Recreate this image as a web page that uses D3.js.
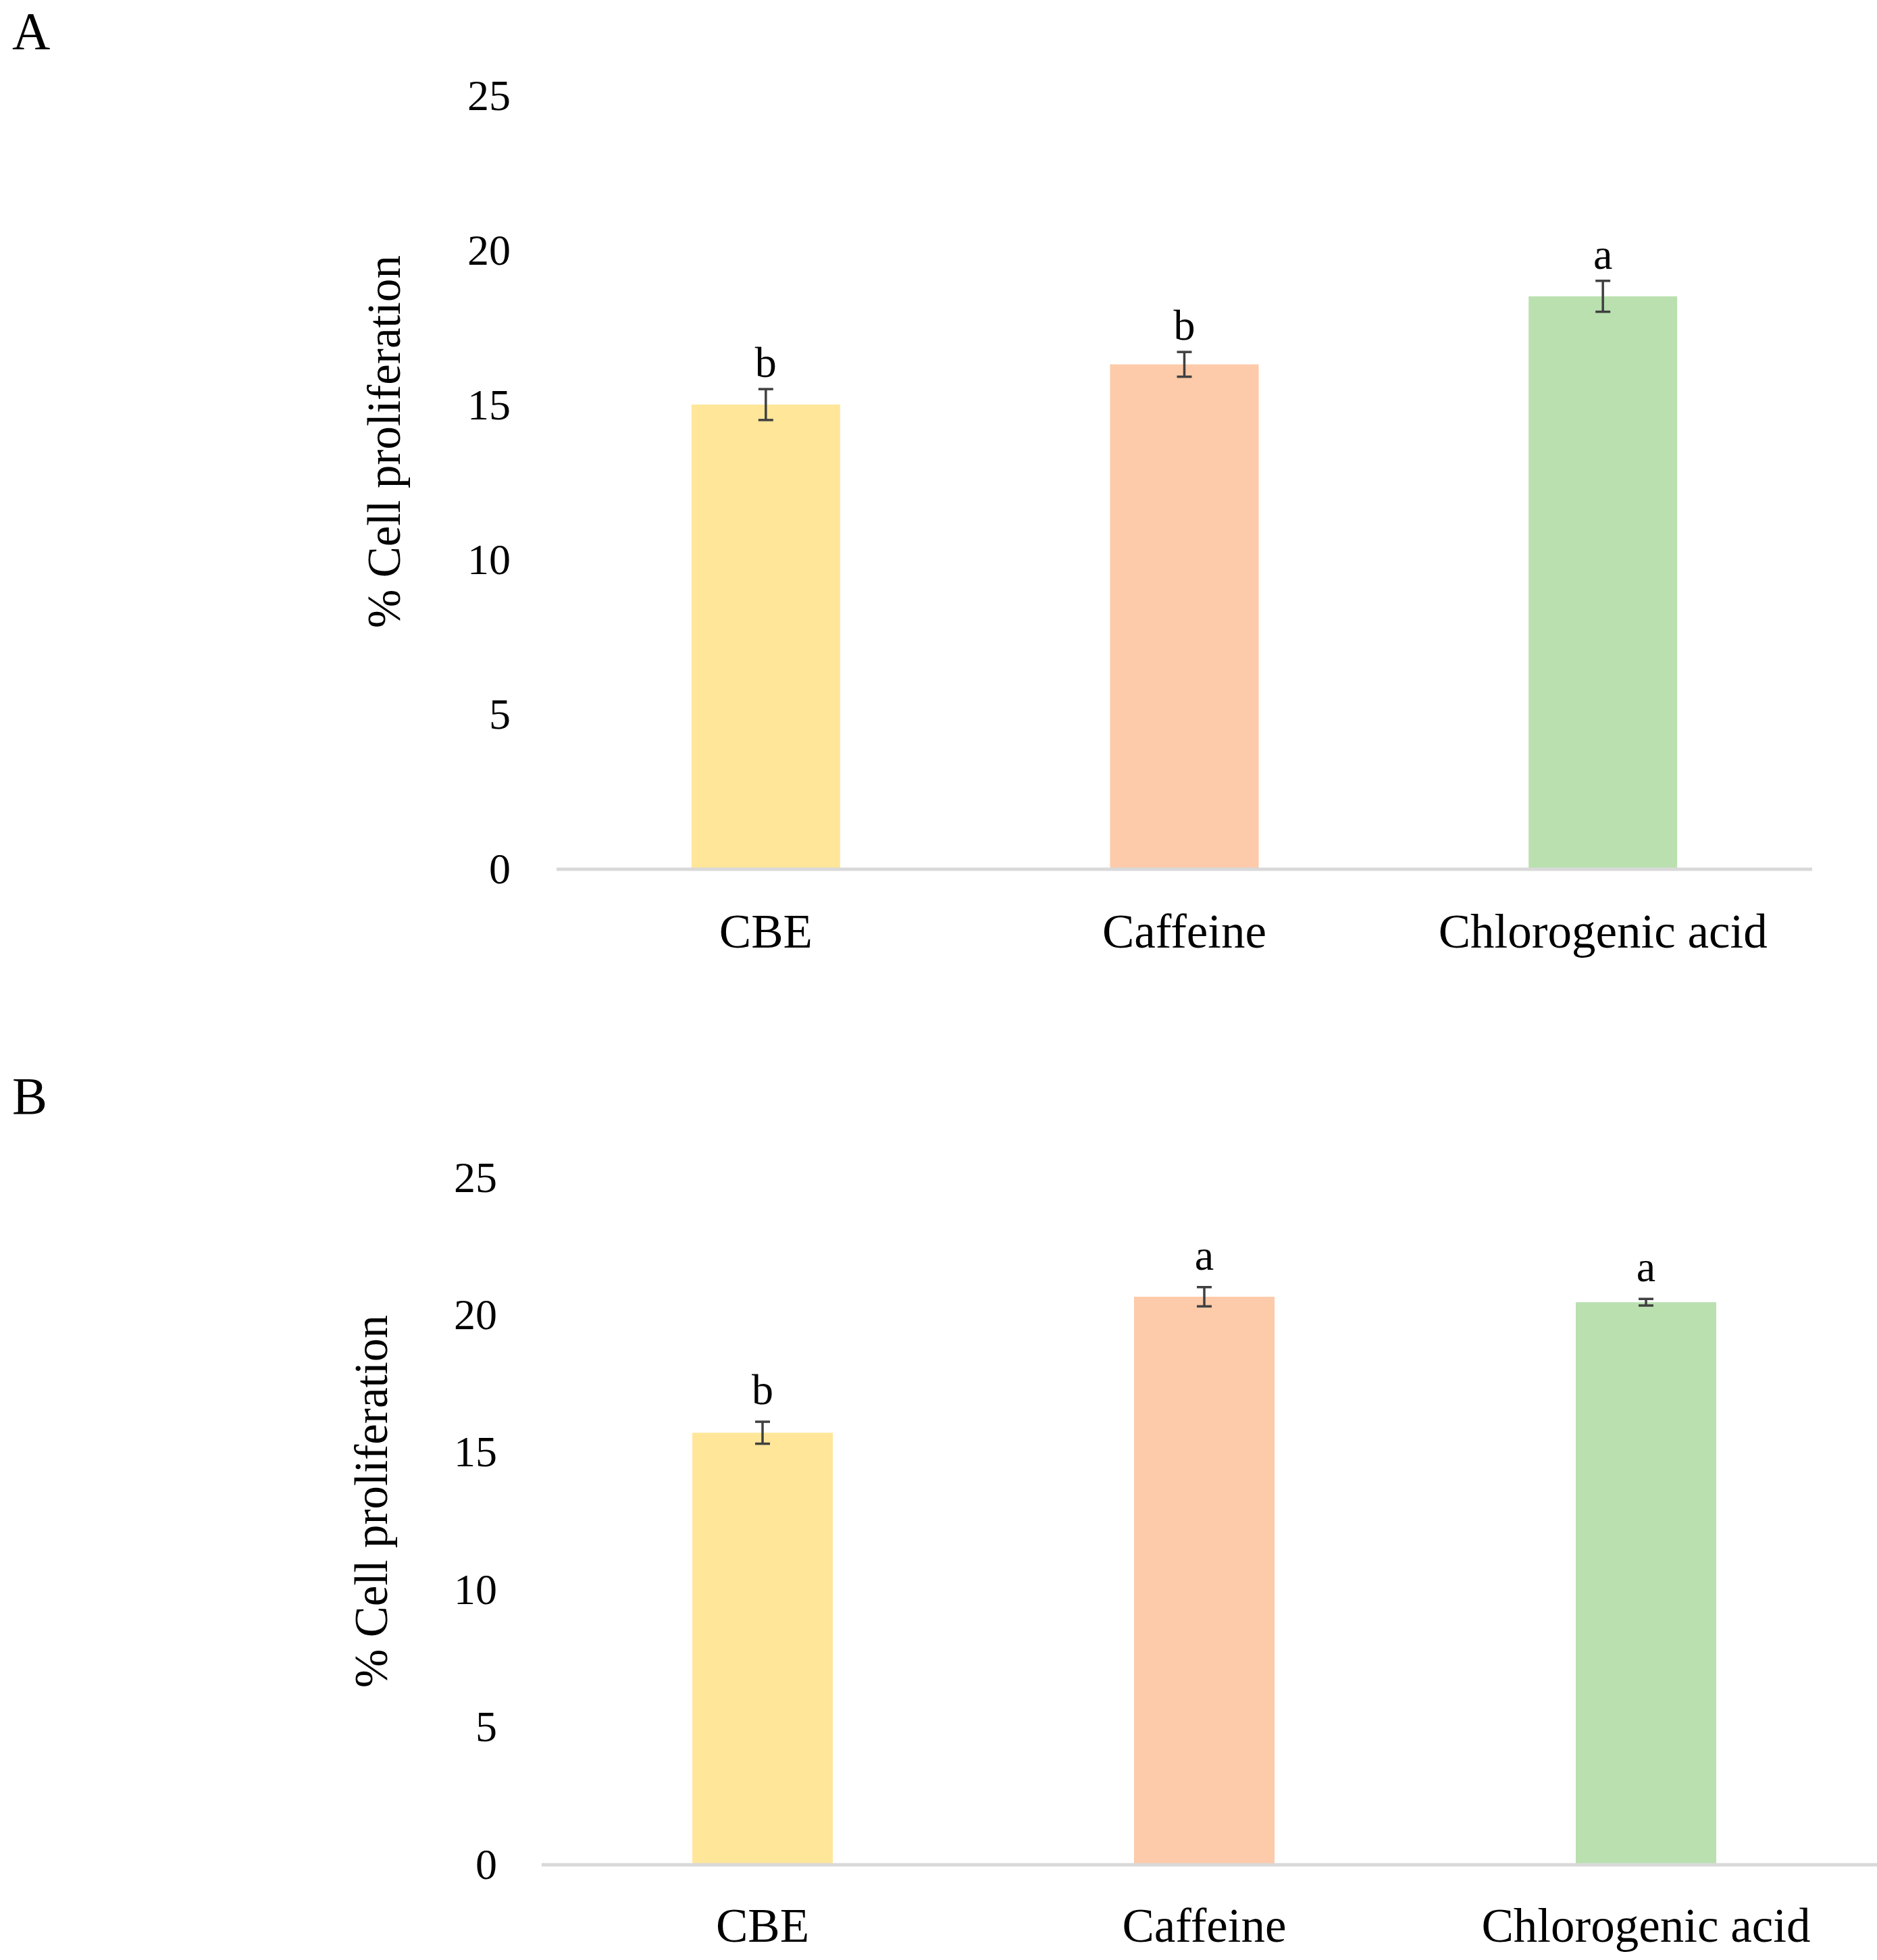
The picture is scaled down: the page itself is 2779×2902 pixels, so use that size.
<!DOCTYPE html>
<html>
<head>
<meta charset="utf-8">
<script src="https://cdn.jsdelivr.net/npm/d3@7/dist/d3.min.js"></script>
<style>
  html, body { margin: 0; padding: 0; background: #ffffff; }
  svg { display: block; }
  text { font-family: "Liberation Serif", "DejaVu Serif", serif; fill: #000; }
</style>
</head>
<body>
<svg id="chart" width="2779" height="2902"></svg>
<script>
// ---- Data ----
const categories = ["CBE", "Caffeine", "Chlorogenic acid"];
const barColors = ["#FFE699", "#FDCAAA", "#BAE0B0"];
const yTicks = [0, 5, 10, 15, 20, 25];
const yTitle = "% Cell proliferation";

const panelLabels = ["A", "B"];
const valuesA = [15.0, 16.3, 18.5];
const errorsA = [0.5, 0.4, 0.5];
const lettersA = ["b", "b", "a"];

const valuesB = [15.7, 20.65, 20.45];
const errorsB = [0.4, 0.35, 0.12];
const lettersB = ["b", "a", "a"];

// ---- Layout (pixels) ----
const panels = [
  { label: panelLabels[0], values: valuesA, errors: errorsA, letters: lettersA,
    x0: 824, x1: 2683, axisEnd: 2683, yBottom: 1286, yTop: 141, pad: 0.645,
    tickX: 756, titleX: 569, titleY: 654, labelY: 1403, panelLabelY: 72, letterGap: 18 },
  { label: panelLabels[1], values: valuesB, errors: errorsB, letters: lettersB,
    x0: 802, x1: 2764, axisEnd: 2779, yBottom: 2760, yTop: 1743, pad: 0.682,
    tickX: 736, titleX: 550, titleY: 2223, labelY: 2875, panelLabelY: 1649, letterGap: 26 }
];

const svg = d3.select("#chart");

panels.forEach(p => {
  const g = svg.append("g");
  const x = d3.scaleBand().domain(categories).range([p.x0, p.x1])
    .paddingInner(p.pad).paddingOuter(p.pad / 2);
  const y = d3.scaleLinear().domain([0, 25]).range([p.yBottom, p.yTop]);

  // panel label
  g.append("text").attr("x", 18).attr("y", p.panelLabelY)
    .attr("font-size", 78).text(p.label);

  // y tick labels (no axis line)
  g.selectAll(".ytick").data(yTicks).join("text")
    .attr("x", p.tickX).attr("y", d => y(d))
    .attr("text-anchor", "end").attr("dominant-baseline", "central")
    .attr("font-size", 64).text(d => d);

  // y title
  g.append("text")
    .attr("transform", `translate(${p.titleX},${p.titleY}) rotate(-90)`)
    .attr("text-anchor", "middle").attr("dominant-baseline", "central")
    .attr("font-size", 69).text(yTitle);

  // bars
  const data = categories.map((c, i) => ({ c, v: p.values[i], e: p.errors[i], l: p.letters[i], col: barColors[i] }));
  g.selectAll(".bar").data(data).join("rect")
    .attr("x", d => x(d.c)).attr("width", x.bandwidth())
    .attr("y", d => y(d.v)).attr("height", d => y(0) - y(d.v))
    .attr("fill", d => d.col);

  // x axis line
  g.append("line").attr("x1", p.x0).attr("x2", p.axisEnd)
    .attr("y1", y(0) + 1).attr("y2", y(0) + 1)
    .attr("stroke", "#D9D9D9").attr("stroke-width", 5);

  // error bars
  const cap = 11;
  const eb = g.selectAll(".err").data(data).join("g")
    .attr("stroke", "#404040").attr("stroke-width", 3.5);
  eb.append("line")
    .attr("x1", d => x(d.c) + x.bandwidth() / 2).attr("x2", d => x(d.c) + x.bandwidth() / 2)
    .attr("y1", d => y(d.v - d.e)).attr("y2", d => y(d.v + d.e));
  eb.append("line")
    .attr("x1", d => x(d.c) + x.bandwidth() / 2 - cap).attr("x2", d => x(d.c) + x.bandwidth() / 2 + cap)
    .attr("y1", d => y(d.v + d.e)).attr("y2", d => y(d.v + d.e));
  eb.append("line")
    .attr("x1", d => x(d.c) + x.bandwidth() / 2 - cap).attr("x2", d => x(d.c) + x.bandwidth() / 2 + cap)
    .attr("y1", d => y(d.v - d.e)).attr("y2", d => y(d.v - d.e));

  // significance letters
  g.selectAll(".letter").data(data).join("text")
    .attr("x", d => x(d.c) + x.bandwidth() / 2)
    .attr("y", d => y(d.v + d.e) - p.letterGap)
    .attr("text-anchor", "middle").attr("font-size", 64).text(d => d.l);

  // category labels
  g.selectAll(".cat").data(categories).join("text")
    .attr("x", d => x(d) + x.bandwidth() / 2).attr("y", p.labelY)
    .attr("text-anchor", "middle").attr("font-size", 71).text(d => d);
});
</script>
</body>
</html>
